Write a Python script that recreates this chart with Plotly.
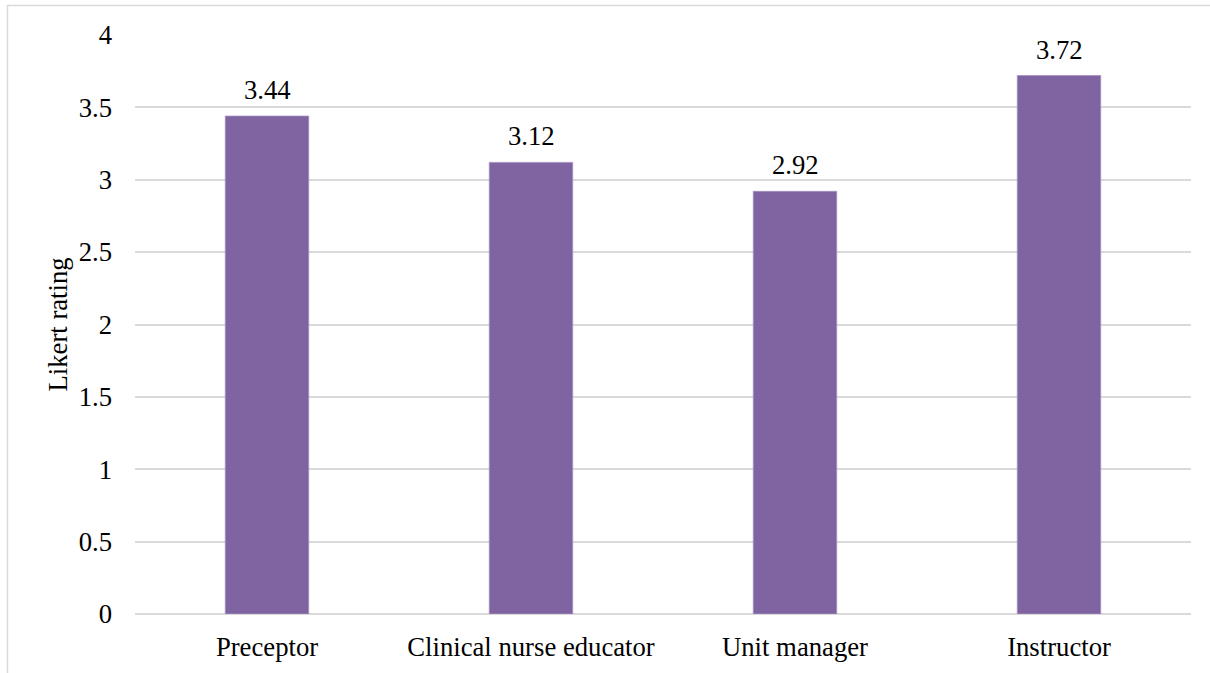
import plotly.graph_objects as go

categories = ["Preceptor", "Clinical nurse educator", "Unit manager", "Instructor"]
ratings = [3.44, 3.12, 2.92, 3.72]
label_texts = ["3.44", "3.12", "2.92", "3.72"]
y_ticks = [0, 0.5, 1, 1.5, 2, 2.5, 3, 3.5, 4]
y_tick_labels = ["0", "0.5", "1", "1.5", "2", "2.5", "3", "3.5", "4"]

FONT = "Liberation Serif, Times New Roman, serif"
FS = 26.7
W, H = 1210, 673
ML, MR, MT, MB = 135, 19, 35, 59

fig = go.Figure()
fig.add_trace(go.Bar(
    x=categories, y=ratings,
    marker=dict(color="#8064A2", line=dict(color="#A48FC0", width=0.8)),
    width=0.316,
    hoverinfo="skip",
))

for c, v, t in zip(categories, ratings, label_texts):
    fig.add_annotation(x=c, y=v, text=t, showarrow=False, yanchor="bottom",
                       yshift=9, font=dict(family=FONT, size=FS, color="#000000"))

fig.add_annotation(x=0, y=0.5, xref="paper", yref="paper", text="Likert rating",
                   textangle=-90, showarrow=False, xanchor="center", yanchor="middle",
                   xshift=-78, font=dict(family=FONT, size=FS, color="#000000"))

fig.add_shape(type="rect", xref="paper", yref="paper",
              x0=(7.5 - ML) / (W - ML - MR), x1=(W + 10 - ML) / (W - ML - MR),
              y0=-(MB + 20) / (H - MT - MB), y1=1 + (MT - 5.5) / (H - MT - MB),
              line=dict(color="#D9D9D9", width=1.5), fillcolor="rgba(0,0,0,0)", layer="below")

fig.update_layout(
    width=W, height=H,
    margin=dict(l=ML, r=MR, t=MT, b=MB),
    paper_bgcolor="white", plot_bgcolor="white",
    font=dict(family=FONT, size=FS, color="#000000"),
    showlegend=False,
    hovermode=False,
    xaxis=dict(showgrid=False, showline=False, zeroline=False, ticks="",
               ticklabelstandoff=14,
               tickfont=dict(family=FONT, size=FS, color="#000000")),
    yaxis=dict(range=[0, 4], tickvals=y_ticks, ticktext=y_tick_labels,
               showgrid=True, gridcolor="#D9D9D9", gridwidth=1.5,
               zeroline=True, zerolinecolor="#D9D9D9", zerolinewidth=1.5,
               showline=False, ticks="", ticklabelstandoff=22,
               tickfont=dict(family=FONT, size=FS, color="#000000")),
)

fig.write_html("out.html", config={"displayModeBar": False},
               post_script="document.body.style.margin='0';document.body.style.overflow='hidden';")
